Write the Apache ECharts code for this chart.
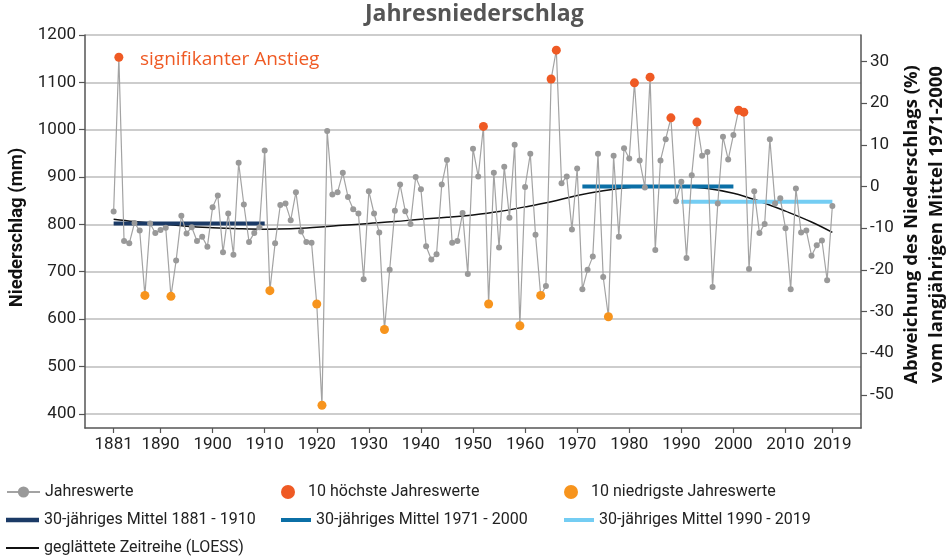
<!DOCTYPE html>
<html><head><meta charset="utf-8">
<script src="https://cdn.jsdelivr.net/npm/echarts@6/dist/echarts.min.js"></script>
<style>html,body{margin:0;padding:0;background:#fff}#c{width:946px;height:559px}</style>
</head><body><div id="c"></div>
<script>
// ---- data ----
const firstYear = 1881;
const precipitation = [
  827,1153,765,760,803,787,650,802,782,788,   // 1881-1890
  793,648,724,818,781,794,765,774,753,836,    // 1891-1900
  861,741,823,736,930,842,763,782,794,956,    // 1901-1910
  660,760,841,844,809,868,785,763,761,632,    // 1911-1920
  418,997,863,868,909,858,832,823,684,870,    // 1921-1930
  823,783,578,704,829,884,828,801,900,874,    // 1931-1940
  754,726,737,884,936,761,765,824,695,960,    // 1941-1950
  901,1007,632,909,751,922,814,968,586,879,   // 1951-1960
  949,778,650,670,1107,1168,887,901,789,918,  // 1961-1970
  663,704,732,949,689,605,945,774,961,939,    // 1971-1980
  1099,935,878,1111,746,935,980,1025,849,890, // 1981-1990
  729,904,1016,945,953,668,844,985,937,989,   // 1991-2000
  1041,1037,706,870,782,801,980,844,855,792,  // 2001-2010
  663,876,783,787,734,756,766,682,839         // 2011-2019
];
const highestYears = [1882,1952,1965,1966,1981,1984,1988,1993,2001,2002];
const lowestYears  = [1887,1892,1911,1920,1921,1933,1953,1959,1963,1976];

const mean1881Years = [1881, 1910]; const mean1881Value = 802;
const mean1971Years = [1971, 2000]; const mean1971Value = 880;
const mean1990Years = [1990, 2019]; const mean1990Value = 848;

const loessYears  = [1881,1885,1890,1895,1900,1905,1910,1915,1920,1925,1930,1935,1940,1945,1950,1955,1960,1965,1970,1975,1980,1985,1990,1995,2000,2005,2010,2015,2019];
const loessValues = [811,806,801,796,793,791,790,791,794,798,802,806,811,815,820,827,837,848,861,871,878,881,880,876,866,849,828,805,783];

const xTickYears = [1881,1890,1900,1910,1920,1930,1940,1950,1960,1970,1980,1990,2000,2010,2019];
const leftTicks  = [400,500,600,700,800,900,1000,1100,1200];
const rightTicks = [-50,-40,-30,-20,-10,0,10,20,30];

const seriesNames = {
  annual: 'Jahreswerte',
  high: '10 höchste Jahreswerte',
  low: '10 niedrigste Jahreswerte',
  m1: '30-jähriges Mittel 1881 - 1910',
  m2: '30-jähriges Mittel 1971 - 2000',
  m3: '30-jähriges Mittel 1990 - 2019',
  loess: 'geglättete Zeitreihe (LOESS)'
};

// ---- build ----
const leftMin = 370, leftMax = 1200;
const refMean = mean1971Value;
const rightMin = (leftMin / refMean - 1) * 100;
const rightMax = (leftMax / refMean - 1) * 100;

const annualData = precipitation.map((v, i) => [firstYear + i, v]);
const highData = highestYears.map(y => [y, precipitation[y - firstYear]]);
const lowData = lowestYears.map(y => [y, precipitation[y - firstYear]]);
const loessData = loessYears.map((y, i) => [y, loessValues[i]]);

const FONT = 'Roboto, "Noto Sans", sans-serif';
const WIDE = '"Open Sans", Roboto, sans-serif';
const axisColor = '#555';
const barIcon = 'path://M0,0L30,0L30,4L0,4Z';
const thinIcon = 'path://M0,0L30,0L30,1.6L0,1.6Z';

function legendItem(name, left, top, width, icon) {
  const item = {name: name};
  if (icon) item.icon = icon;
  return {
    orient: 'horizontal', left: left, top: top, itemWidth: width, itemHeight: 14,
    selectedMode: false, padding: 0, symbolKeepAspect: true,
    textStyle: {fontFamily: FONT, fontSize: 16, color: '#222'},
    data: [item]
  };
}

const chart = echarts.init(document.getElementById('c'), null, {renderer: 'canvas'});
chart.setOption({
  animation: false,
  title: {
    text: 'Jahresniederschlag', left: 365, top: 3, padding: 0,
    textStyle: {fontFamily: WIDE, fontSize: 23, fontWeight: 'bold', color: '#555'}
  },
  graphic: [{
    type: 'text', left: 140, top: 50,
    style: {text: 'signifikanter Anstieg', fill: '#ef5a24', font: '19px ' + WIDE}
  }],
  grid: {left: 85, right: 85, top: 35, bottom: 131, containLabel: false, outerBoundsMode: 'none'},
  legend: [
    legendItem(seriesNames.annual, 6, 484, 33),
    legendItem(seriesNames.high, 281, 484, 30),
    legendItem(seriesNames.low, 564, 484, 30),
    legendItem(seriesNames.m1, 6, 512, 33, barIcon),
    legendItem(seriesNames.m2, 281, 512, 30, barIcon),
    legendItem(seriesNames.m3, 564, 512, 30, barIcon),
    legendItem(seriesNames.loess, 6, 540, 33, thinIcon)
  ],
  xAxis: {
    type: 'value', min: 1875.5, max: 2024.5,
    axisLine: {show: true, onZero: false, lineStyle: {color: axisColor, width: 1.5}},
    axisTick: {show: true, length: 5, customValues: xTickYears, lineStyle: {color: axisColor, width: 1.2}},
    axisLabel: {customValues: xTickYears, margin: 8, fontFamily: FONT, fontSize: 17, color: '#222', formatter: v => String(v)},
    splitLine: {show: false}
  },
  yAxis: [{
    type: 'value', position: 'left', min: leftMin, max: leftMax, minInterval: 100, maxInterval: 100,
    name: 'Niederschlag (mm)', nameLocation: 'middle', nameGap: 58, nameRotate: 90, nameMoveOverlap: false,
    nameTextStyle: {fontFamily: FONT, fontSize: 18.5, fontWeight: 'bold', color: '#111', padding: [0, 0, 0, 8]},
    axisLine: {show: true, lineStyle: {color: axisColor, width: 1.5}},
    axisTick: {show: true, length: 6, customValues: leftTicks, lineStyle: {color: axisColor, width: 1.2}},
    axisLabel: {customValues: leftTicks, margin: 9, fontFamily: FONT, fontSize: 17, color: '#222', formatter: v => String(v)},
    splitLine: {show: true, lineStyle: {color: '#bdbdbd', width: 1.5}}
  }, {
    type: 'value', position: 'right', min: rightMin, max: rightMax, minInterval: 10, maxInterval: 10,
    name: 'Abweichung des Niederschlags (%)\nvom langjährigen Mittel 1971-2000',
    nameLocation: 'middle', nameGap: 38, nameRotate: 90, nameMoveOverlap: false,
    nameTextStyle: {fontFamily: WIDE, fontSize: 18.5, fontWeight: 'bold', color: '#111', lineHeight: 25, padding: [0, 0, 0, 14]},
    axisLine: {show: true, lineStyle: {color: axisColor, width: 1.5}},
    axisTick: {show: true, length: 6, customValues: rightTicks, lineStyle: {color: axisColor, width: 1.2}},
    axisLabel: {customValues: rightTicks, margin: 9, fontFamily: FONT, fontSize: 17, color: '#222', formatter: v => String(v)},
    splitLine: {show: false}
  }],
  series: [
    {
      name: seriesNames.loess, type: 'line', data: loessData, smooth: 0.4, showSymbol: false, symbol: 'none',
      lineStyle: {color: '#111', width: 1.5}, itemStyle: {color: '#111'}, z: 2, silent: true
    },
    {
      name: seriesNames.m1, type: 'line', symbol: 'none',
      data: mean1881Years.map(y => [y, mean1881Value]),
      lineStyle: {color: '#1b3a66', width: 4}, itemStyle: {color: '#1b3a66'}, z: 3, silent: true
    },
    {
      name: seriesNames.m2, type: 'line', symbol: 'none',
      data: mean1971Years.map(y => [y, mean1971Value]),
      lineStyle: {color: '#0b6fa6', width: 4}, itemStyle: {color: '#0b6fa6'}, z: 3, silent: true
    },
    {
      name: seriesNames.m3, type: 'line', symbol: 'none',
      data: mean1990Years.map(y => [y, mean1990Value]),
      lineStyle: {color: '#74cdf3', width: 4}, itemStyle: {color: '#74cdf3'}, z: 3, silent: true
    },
    {
      name: seriesNames.annual, type: 'line', data: annualData, symbol: 'circle', symbolSize: 6, showSymbol: true,
      lineStyle: {color: '#a3a3a3', width: 1.2}, itemStyle: {color: '#999999'}, z: 4, silent: true
    },
    {
      name: seriesNames.high, type: 'scatter', data: highData, symbol: 'circle', symbolSize: 9,
      itemStyle: {color: '#ef5a24', opacity: 1}, z: 5, silent: true
    },
    {
      name: seriesNames.low, type: 'scatter', data: lowData, symbol: 'circle', symbolSize: 9,
      itemStyle: {color: '#f7941d', opacity: 1}, z: 5, silent: true
    }
  ]
});
</script>
</body></html>
